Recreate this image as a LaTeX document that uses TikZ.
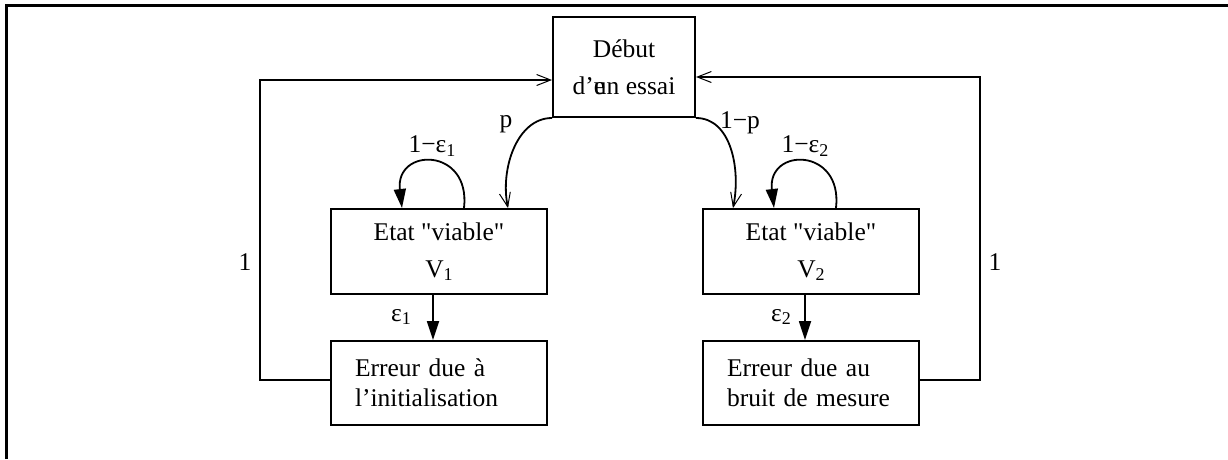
\documentclass[tikz,border=0pt]{standalone}
\usepackage{fontspec}
\setmainfont{Liberation Serif}
\newfontfamily\nq{Liberation Serif}
\usetikzlibrary{arrows.meta}
\newcommand\subsc[1]{\raisebox{-0.3ex}{\fontsize{18}{18}\selectfont #1}}
\newcommand\dq{{\nq"}}
\begin{document}
\begin{tikzpicture}[x=1pt,y=-1pt,
  every node/.style={font=\fontsize{25.5}{37}\selectfont},
  box/.style={draw,line width=2pt,rectangle,inner sep=0pt,align=center},
  ebox/.style={draw,line width=2pt,rectangle,inner xsep=24pt,inner ysep=0pt,
     text width=168pt,align=left,minimum height=84pt,
     font=\fontsize{25.5}{30}\selectfont},
  openarr/.style={line width=1.8pt,-{Straight Barb[length=14pt,width=11pt,line width=1pt]}},
  fillarr/.style={line width=1.8pt,-{Triangle[length=19pt,width=12pt]}},
  plain/.style={line width=1.8pt}]
\useasboundingbox (0,0) rectangle (1228,459);
\draw[line width=3pt] (6,459) -- (6,5) -- (1228,5);

\node[box,minimum width=142pt,minimum height=100pt] (deb) at (624,67)
  {Début\\d’\rlap{e}un essai};
\node[box,minimum width=216pt,minimum height=85pt] (v1) at (439,251.5)
  {Etat \dq viable\dq\\V\subsc{1}};
\node[box,minimum width=216pt,minimum height=85pt] (v2) at (811,251.5)
  {Etat \dq viable\dq\\V\subsc{2}};
\node[ebox] (e1) at (439,383) {Erreur due à\\l’initialisation};
\node[ebox] (e2) at (811,383) {Erreur due au\\bruit de mesure};

% branches from start
\draw[openarr] (deb.south west) .. controls +(-35,0) and +(-8,-39) .. ([xshift=69pt]v1.north);
\draw[openarr] (deb.south east) .. controls +(35,0) and +(8,-39) .. ([xshift=-78pt]v2.north);
\node (lp) at (506,124) {p};
\node (lq) at (740,123) {1−p};

% self loops
\draw[fillarr] ([xshift=25pt]v1.north) .. controls +(7,-61) and +(-7,-61) .. ([xshift=-37pt]v1.north);
\draw[fillarr] ([xshift=25pt]v2.north) .. controls +(7,-61) and +(-7,-61) .. ([xshift=-37pt]v2.north);
\node (l1) at (432,146) {1−ε\subsc{1}};
\node (l2) at (805,146) {1−ε\subsc{2}};

% down arrows
\draw[fillarr] ([xshift=-6pt]v1.south) -- ([xshift=-6pt]e1.north);
\draw[fillarr] ([xshift=-6pt]v2.south) -- ([xshift=-6pt]e2.north);
\node (le1) at (401,317) {ε\subsc{1}};
\node (le2) at (781,317) {ε\subsc{2}};

% feedback
\draw[openarr] ([yshift=3pt]e1.west) -- ++(-70,0) |- ([yshift=-13pt]deb.west);
\draw[openarr] ([yshift=3pt]e2.east) -- ++(60,0) |- ([yshift=-10pt]deb.east);
\node (f1) at (245,262) {1};
\node (f2) at (995,262) {1};
\end{tikzpicture}
\end{document}
